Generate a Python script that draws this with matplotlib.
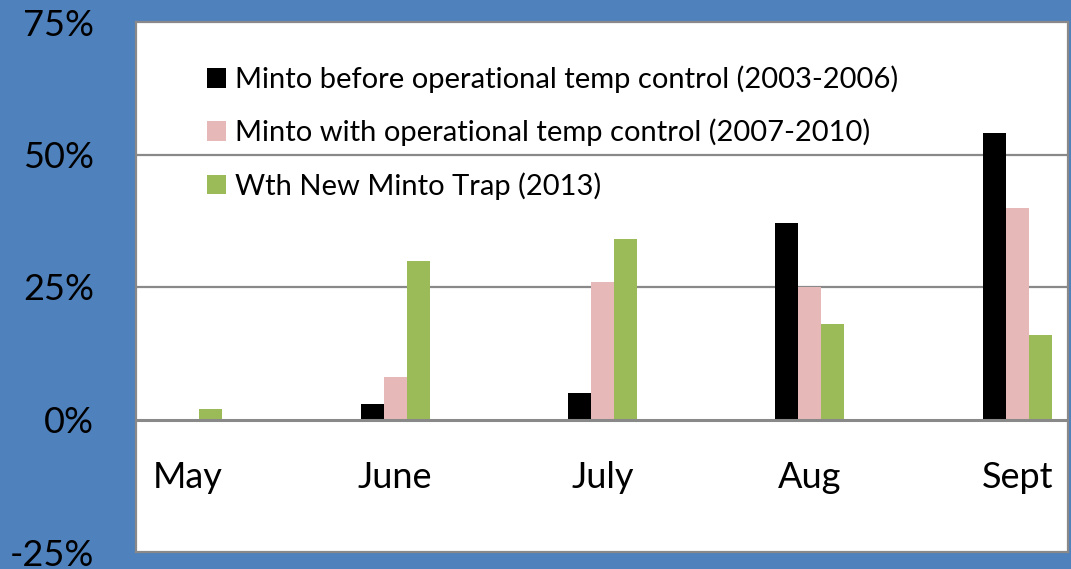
import matplotlib

matplotlib.use("Agg")
import matplotlib.pyplot as plt
import numpy as np
from matplotlib.patches import Patch

months = ["May", "June", "July", "Aug", "Sept"]
series_names = [
    "Minto before operational temp control (2003-2006)",
    "Minto with operational temp control (2007-2010)",
    "Wth New Minto Trap (2013)",
]
before_control = [0, 3, 5, 37, 54]
with_control = [0, 8, 26, 25, 40]
new_trap = [2, 30, 34, 18, 16]
y_ticks = [-25, 0, 25, 50, 75]
y_tick_labels = ["-25%", "0%", "25%", "50%", "75%"]

colors = ["#000000", "#E6B9B8", "#9BBB59"]
bg_blue = "#4F81BD"
grid_gray = "#898989"

plt.rcParams["font.family"] = ["Lato", "DejaVu Sans"]

fig = plt.figure(figsize=(10.71, 5.69), dpi=100, facecolor=bg_blue)
ax = fig.add_axes([136 / 1071, 17 / 569, 932 / 1071, 530 / 569])
ax.set_facecolor("white")

x = np.arange(len(months))
width = 0.111
for offset, values, color in zip((-width, 0, width), (before_control, with_control, new_trap), colors):
    ax.bar(x + offset, values, width=width, color=color, linewidth=0, zorder=3)

ax.set_ylim(-25, 75)
ax.set_xlim(-0.25, 4.245)
ax.set_yticks(y_ticks)
ax.set_yticklabels(y_tick_labels, fontsize=26)
ax.tick_params(axis="y", length=0, pad=30)
ax.set_xticks([])

for yv in (25, 50):
    ax.axhline(yv, color=grid_gray, linewidth=1.6, zorder=1)
ax.axhline(0, color=grid_gray, linewidth=2.2, zorder=4)

for i, month in enumerate(months):
    ax.text(i, -11, month, ha="center", va="center", fontsize=26)

for spine in ax.spines.values():
    spine.set_color(grid_gray)
    spine.set_linewidth(1.6)

handles = [Patch(facecolor=c, edgecolor="none") for c in colors]
ax.legend(
    handles,
    series_names,
    loc="upper left",
    bbox_to_anchor=(0.076, 0.918),
    frameon=False,
    fontsize=21,
    handlelength=0.65,
    handleheight=0.65,
    handletextpad=0.3,
    labelspacing=0.88,
    borderpad=0,
    borderaxespad=0,
)

fig.savefig("out.png", dpi=100, facecolor=bg_blue)
